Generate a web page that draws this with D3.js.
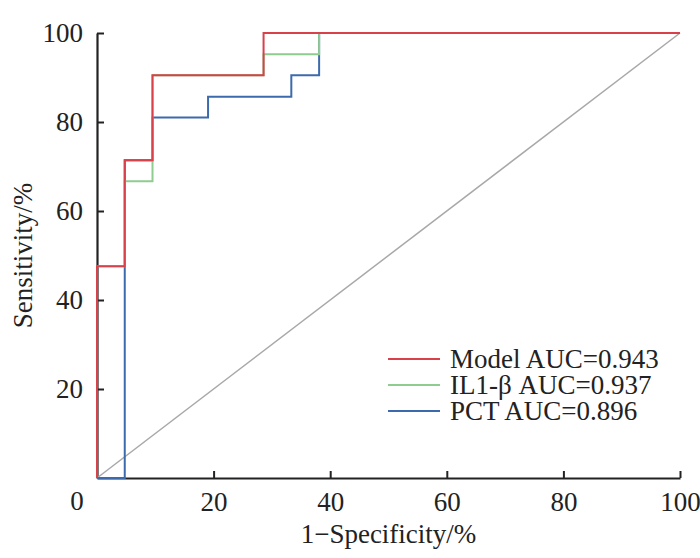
<!DOCTYPE html>
<html>
<head>
<meta charset="utf-8">
<script src="https://cdn.jsdelivr.net/npm/d3@7"></script>
<style>
body { margin: 0; background: #fff; }
text { font-family: "Liberation Serif", "DejaVu Serif", serif; fill: #222; }
</style>
</head>
<body>
<svg id="chart" width="700" height="558"></svg>
<script>
// ROC step points, [1-specificity %, sensitivity %]
var modelPts = [[0, 0], [0, 47.6], [4.76, 47.6], [4.76, 71.4], [9.52, 71.4], [9.52, 90.5], [28.57, 90.5], [28.57, 100], [100, 100]];
var il1Pts = [[0, 0], [0, 47.6], [4.76, 47.6], [4.76, 66.7], [9.52, 66.7], [9.52, 90.5], [28.57, 90.5], [28.57, 95.2], [38.1, 95.2], [38.1, 100], [100, 100]];
var pctPts = [[0, 0], [4.76, 0], [4.76, 71.4], [9.52, 71.4], [9.52, 81], [19.05, 81], [19.05, 85.7], [33.33, 85.7], [33.33, 90.5], [38.1, 90.5], [38.1, 100], [100, 100]];
var refPts = [[0, 0], [100, 100]];

var seriesNames = ["Model AUC=0.943", "IL1-β AUC=0.937", "PCT AUC=0.896"];
var seriesColors = ["#d8404a", "#8fcc8f", "#3d6aad"];
var xTicks = [20, 40, 60, 80, 100];
var yTicks = [20, 40, 60, 80, 100];

var svg = d3.select("#chart");
var margin = {top: 33, right: 20, bottom: 80, left: 97};

var x = d3.scaleLinear().domain([0, 100]).range([0, 583]);
var y = d3.scaleLinear().domain([0, 100]).range([445, 0]);

var g = svg.append("g")
    .attr("transform", "translate(" + margin.left + "," + margin.top + ")");

var line = d3.line()
    .x(function(d) { return x(d[0]); })
    .y(function(d) { return y(d[1]); });

// axes, ticks pointing inward
var xAxis = g.append("g")
    .attr("transform", "translate(0," + y(0) + ")")
    .call(d3.axisBottom(x).tickValues(xTicks).tickSizeInner(-7).tickSizeOuter(0).tickPadding(14));
var yAxis = g.append("g")
    .call(d3.axisLeft(y).tickValues(yTicks).tickSizeInner(-7).tickSizeOuter(0).tickPadding(14));

[xAxis, yAxis].forEach(function(a) {
    a.attr("font-family", null).attr("font-size", null);
    a.select(".domain").attr("stroke", "#222").attr("stroke-width", 2.2);
    a.selectAll(".tick line").attr("stroke", "#222").attr("stroke-width", 2);
    a.selectAll(".tick text")
        .style("font-family", "'Liberation Serif', serif")
        .style("font-size", "27px")
        .attr("fill", "#222");
});
xAxis.selectAll(".tick text").attr("dy", "0.7em");

// diagonal reference
g.append("path")
    .datum(refPts)
    .attr("d", line)
    .attr("fill", "none")
    .attr("stroke", "#a8a8a8")
    .attr("stroke-width", 1.5);

// draw blue first, then green, red on top (over the axis lines too)
var curves = [pctPts, il1Pts, modelPts];
var curveColors = [seriesColors[2], seriesColors[1], seriesColors[0]];
curves.forEach(function(pts, i) {
    g.append("path")
        .datum(pts)
        .attr("d", line)
        .attr("fill", "none")
        .attr("stroke", curveColors[i])
        .attr("stroke-width", 2);
});

// corner zero label
g.append("text")
    .attr("x", -20)
    .attr("y", y(0) + 32)
    .attr("text-anchor", "middle")
    .style("font-size", "27px")
    .text("0");

// axis titles
g.append("text")
    .attr("x", x(50))
    .attr("y", y(0) + 65)
    .attr("text-anchor", "middle")
    .style("font-size", "27px")
    .text("1\u2212Specificity/%");

g.append("text")
    .attr("transform", "translate(" + (-65) + "," + y(50) + ") rotate(-90)")
    .attr("text-anchor", "middle")
    .style("font-size", "27px")
    .text("Sensitivity/%");

// legend
var legend = g.append("g")
    .attr("transform", "translate(291,326)");
seriesNames.forEach(function(name, i) {
    var row = legend.append("g").attr("transform", "translate(0," + (i * 26) + ")");
    row.append("line")
        .attr("x1", 0).attr("x2", 52)
        .attr("y1", 0).attr("y2", 0)
        .attr("stroke", seriesColors[i])
        .attr("stroke-width", 2);
    row.append("text")
        .attr("x", 62)
        .attr("y", 0)
        .attr("dy", "0.33em")
        .style("font-size", "27px")
        .text(name);
});
</script>
</body>
</html>
